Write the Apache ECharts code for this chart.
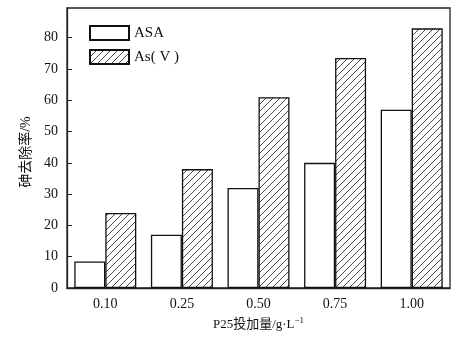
<!DOCTYPE html>
<html><head><meta charset="utf-8">
<script src="https://cdn.jsdelivr.net/npm/echarts@6/dist/echarts.min.js"></script>
<style>html,body{margin:0;padding:0;background:#fff}#c{width:473px;height:337px}</style>
</head><body><div id="c"></div>
<script>
const categories = ['0.10', '0.25', '0.50', '0.75', '1.00'];
const seriesNames = ['ASA', 'As( V )'];
const asaValues = [8.5, 17, 32, 40, 57];
const asvValues = [24, 38, 61, 73.5, 83];
const yTicks = [0, 10, 20, 30, 40, 50, 60, 70, 80];

function hatch() {
  const s = 7;
  const c = document.createElement('canvas');
  c.width = s; c.height = s;
  const g = c.getContext('2d');
  g.fillStyle = '#fff'; g.fillRect(0, 0, s, s);
  g.strokeStyle = '#333'; g.lineWidth = 0.9;
  g.beginPath();
  g.moveTo(-1, s + 1); g.lineTo(s + 1, -1);
  g.moveTo(-1, 1); g.lineTo(1, -1);
  g.moveTo(s - 1, s + 1); g.lineTo(s + 1, s - 1);
  g.stroke();
  return c;
}
const font = '"Liberation Serif", "Times New Roman", "Noto Sans CJK SC", serif';
const chart = echarts.init(document.getElementById('c'));
chart.setOption({
  animation: false,
  textStyle: { fontFamily: font, color: '#000' },
  grid: { left: 67, right: 23, top: 8, bottom: 49, show: true, borderColor: '#222', borderWidth: 1.3 },
  legend: {
    orient: 'vertical', left: 84, top: 20, itemWidth: 39, itemHeight: 14, itemGap: 8, icon: 'rect',
    textStyle: { fontFamily: font, fontSize: 15, color: '#111' },
    data: seriesNames
  },
  xAxis: {
    type: 'category', data: categories,
    axisLine: { lineStyle: { color: '#222', width: 1.3 } },
    axisTick: { inside: true, length: 4, lineStyle: { color: '#222' } },
    axisLabel: { fontFamily: font, fontSize: 14, color: '#111', margin: 9 },
    name: '{a|P25投加量/g·L}{s|−1}', nameLocation: 'middle', nameGap: 27,
    nameTextStyle: {
      rich: {
        a: { fontFamily: font, fontSize: 13, color: '#111' },
        s: { fontFamily: font, fontSize: 9, color: '#111', verticalAlign: 'top', padding: [0, 0, 8, 0] }
      }
    }
  },
  yAxis: {
    type: 'value', min: 0, max: 89.5, interval: 10,
    axisLine: { show: true, lineStyle: { color: '#222', width: 1.3 } },
    axisTick: { show: true, inside: true, length: 5, lineStyle: { color: '#222' } },
    splitLine: { show: false },
    axisLabel: {
      fontFamily: font, fontSize: 14, color: '#111', margin: 9, showMaxLabel: false,
      formatter: v => yTicks.includes(v) ? String(v) : ''
    },
    name: '砷去除率/%', nameLocation: 'middle', nameGap: 31, nameRotate: 90,
    nameTextStyle: { fontFamily: font, fontSize: 14, color: '#111', padding: [0, 8, 0, 0] }
  },
  series: [
    { name: seriesNames[0], type: 'bar', data: asaValues, barWidth: 31, barGap: '0%',
      itemStyle: { color: '#fff', borderColor: '#111', borderWidth: 1.3 } },
    { name: seriesNames[1], type: 'bar', data: asvValues, barWidth: 31, barGap: '0%',
      itemStyle: { color: { image: hatch(), repeat: 'repeat' }, borderColor: '#111', borderWidth: 1.3 } }
  ]
});
</script></body></html>
